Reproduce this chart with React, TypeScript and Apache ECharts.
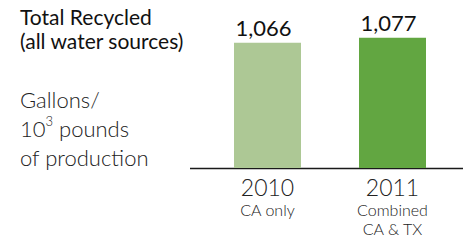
import React, { useEffect, useRef } from "react";
import * as echarts from "echarts";

const categories = ["2010", "2011"];
const subLabels = ["CA only", "Combined\nCA & TX"];
const values = [1066, 1077];
const barColors = ["#adc895", "#62a641"];
const titleLines = ["Total Recycled", "(all water sources)"];
const unitLines = ["Gallons/", "10{sup|3} pounds", "of production"];

const FONT = "Lato";

export default function App() {
  const ref = useRef<HTMLDivElement>(null);
  useEffect(() => {
    document.body.style.margin = "0";
    if (!ref.current) return;
    const chart = echarts.init(ref.current, null, { renderer: "svg" });
    chart.setOption({
      animation: false,
      grid: { left: 205, right: 9, top: 0, bottom: 78, containLabel: false },
      xAxis: {
        type: "category",
        data: categories,
        axisLine: { show: false },
        axisTick: { show: false },
        axisLabel: {
          margin: 5,
          formatter: (v: string, i: number) =>
            `{y|${v}}\n` + subLabels[i].split("\n").map((s) => `{s|${s}}`).join("\n"),
          rich: {
            y: { fontFamily: FONT, fontWeight: 300, fontSize: 23, lineHeight: 27, color: "#222" },
            s: { fontFamily: FONT, fontWeight: 300, fontSize: 16, lineHeight: 19, color: "#222" },
          },
        },
      },
      yAxis: { type: "value", min: 790, max: 1160, show: false, splitLine: { show: false } },
      series: [
        {
          type: "bar",
          barWidth: 67,
          data: values.map((v, i) => ({ value: v, itemStyle: { color: barColors[i] } })),
          label: {
            show: true,
            position: "top",
            distance: 4,
            offset: [-4, 0],
            formatter: (p: any) => p.value.toLocaleString("en-US"),
            fontFamily: FONT,
            fontWeight: 400,
            fontSize: 22,
            color: "#111",
          },
        },
      ],
      graphic: [
        {
          type: "line",
          shape: { x1: 190, y1: 168.5, x2: 463, y2: 168.5 },
          style: { stroke: "#1a1a1a", lineWidth: 1.6 },
        },
        {
          type: "text",
          left: 20,
          top: 4,
          style: {
            text: titleLines.join("\n"),
            fontFamily: FONT,
            fontWeight: 400,
            fontSize: 21,
            lineHeight: 24,
            fill: "#111",
          },
        },
        {
          type: "text",
          left: 20,
          top: 85,
          style: {
            text: unitLines.join("\n"),
            fontFamily: FONT,
            fontWeight: 300,
            fontSize: 22,
            lineHeight: 29,
            fill: "#222",
            rich: {
              sup: { fontFamily: FONT, fontWeight: 300, fontSize: 13, verticalAlign: "top", lineHeight: 29, padding: [0, 0, 10, 0] },
            },
          },
        },
      ],
    });
    return () => chart.dispose();
  }, []);
  return <div ref={ref} style={{ width: 464, height: 246 }} />;
}
